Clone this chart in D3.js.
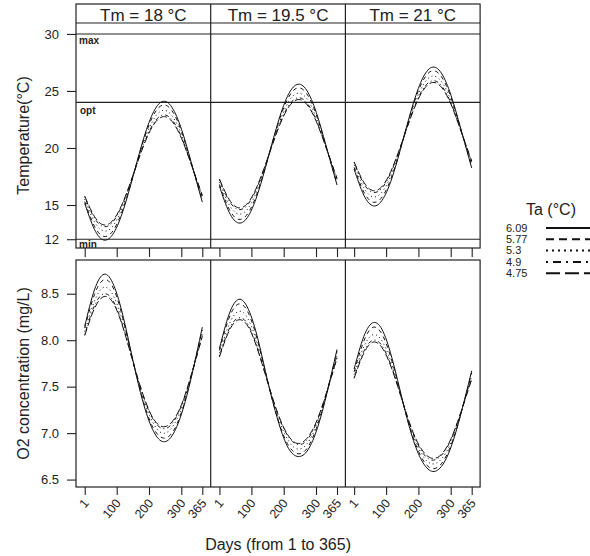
<!DOCTYPE html>
<html>
<head>
<meta charset="utf-8">
<script src="https://cdn.jsdelivr.net/npm/d3@7"></script>
<style>
  body { margin: 0; background: #fff; }
  svg { display: block; font-family: "Liberation Sans", Arial, sans-serif; }
</style>
</head>
<body>
<svg id="chart" width="590" height="556"></svg>
<script>
// values, one row per Ta level (6.09, 5.77, 5.3, 4.9, 4.75)
const days = [1, 31, 61, 91, 121, 151, 181, 211, 241, 271, 301, 331, 365]
const taLevels = ['6.09', '5.77', '5.3', '4.9', '4.75']
const tmLevels = ['18', '19.5', '21']

const tempTm18 = [
  [15.15, 12.87, 11.92, 12.56, 14.61, 17.56, 20.61, 22.99, 24.07, 23.57, 21.61, 18.71, 15.25],
  [15.30, 13.14, 12.24, 12.84, 14.79, 17.58, 20.47, 22.73, 23.75, 23.27, 21.42, 18.67, 15.39],
  [15.52, 13.53, 12.71, 13.26, 15.05, 17.61, 20.27, 22.35, 23.28, 22.84, 21.14, 18.61, 15.60],
  [15.71, 13.87, 13.10, 13.62, 15.28, 17.64, 20.10, 22.02, 22.88, 22.48, 20.91, 18.57, 15.79],
  [15.78, 14.00, 13.25, 13.75, 15.36, 17.65, 20.03, 21.90, 22.73, 22.34, 20.82, 18.55, 15.85]
]
const tempTm195 = [
  [16.65, 14.37, 13.42, 14.06, 16.11, 19.06, 22.11, 24.49, 25.57, 25.07, 23.11, 20.21, 16.75],
  [16.80, 14.64, 13.74, 14.34, 16.29, 19.08, 21.97, 24.23, 25.25, 24.77, 22.92, 20.17, 16.89],
  [17.02, 15.03, 14.21, 14.76, 16.55, 19.11, 21.77, 23.85, 24.78, 24.34, 22.64, 20.11, 17.10],
  [17.21, 15.37, 14.60, 15.12, 16.78, 19.14, 21.60, 23.52, 24.38, 23.98, 22.41, 20.07, 17.29],
  [17.28, 15.50, 14.75, 15.25, 16.86, 19.15, 21.53, 23.40, 24.23, 23.84, 22.32, 20.05, 17.35]
]
const tempTm21 = [
  [18.15, 15.87, 14.92, 15.56, 17.61, 20.56, 23.61, 25.99, 27.07, 26.57, 24.61, 21.71, 18.25],
  [18.30, 16.14, 15.24, 15.84, 17.79, 20.58, 23.47, 25.73, 26.75, 26.27, 24.42, 21.67, 18.39],
  [18.52, 16.53, 15.71, 16.26, 18.05, 20.61, 23.27, 25.35, 26.28, 25.84, 24.14, 21.61, 18.60],
  [18.71, 16.87, 16.10, 16.62, 18.28, 20.64, 23.10, 25.02, 25.88, 25.48, 23.91, 21.57, 18.79],
  [18.78, 17.00, 16.25, 16.75, 18.36, 20.65, 23.03, 24.90, 25.73, 25.34, 23.82, 21.55, 18.85]
]

const o2Tm18 = [
  [8.15, 8.54, 8.71, 8.59, 8.24, 7.77, 7.34, 7.04, 6.91, 6.97, 7.21, 7.60, 8.14],
  [8.13, 8.49, 8.65, 8.55, 8.21, 7.77, 7.36, 7.07, 6.95, 7.00, 7.23, 7.61, 8.11],
  [8.09, 8.42, 8.57, 8.47, 8.17, 7.77, 7.39, 7.12, 7.00, 7.06, 7.27, 7.62, 8.08],
  [8.06, 8.37, 8.50, 8.41, 8.13, 7.76, 7.41, 7.16, 7.05, 7.10, 7.30, 7.62, 8.05],
  [8.05, 8.34, 8.47, 8.39, 8.12, 7.76, 7.42, 7.17, 7.07, 7.12, 7.31, 7.63, 8.04]
]
const o2Tm195 = [
  [7.91, 8.28, 8.44, 8.33, 8.00, 7.55, 7.15, 6.86, 6.75, 6.80, 7.02, 7.39, 7.90],
  [7.89, 8.24, 8.39, 8.29, 7.97, 7.55, 7.16, 6.89, 6.78, 6.83, 7.05, 7.40, 7.88],
  [7.86, 8.17, 8.31, 8.22, 7.93, 7.55, 7.19, 6.94, 6.83, 6.88, 7.08, 7.41, 7.84],
  [7.83, 8.12, 8.24, 8.16, 7.89, 7.54, 7.21, 6.98, 6.88, 6.92, 7.11, 7.41, 7.81],
  [7.82, 8.10, 8.22, 8.14, 7.88, 7.54, 7.22, 6.99, 6.89, 6.94, 7.12, 7.42, 7.81]
]
const o2Tm21 = [
  [7.69, 8.04, 8.19, 8.09, 7.77, 7.35, 6.96, 6.70, 6.59, 6.64, 6.85, 7.20, 7.67],
  [7.66, 7.99, 8.14, 8.04, 7.74, 7.34, 6.98, 6.73, 6.62, 6.67, 6.87, 7.20, 7.65],
  [7.63, 7.93, 8.06, 7.97, 7.70, 7.34, 7.00, 6.77, 6.67, 6.72, 6.90, 7.21, 7.62],
  [7.60, 7.88, 8.00, 7.92, 7.67, 7.34, 7.02, 6.80, 6.71, 6.76, 6.93, 7.22, 7.59],
  [7.59, 7.86, 7.98, 7.90, 7.66, 7.34, 7.03, 6.82, 6.73, 6.77, 6.94, 7.22, 7.58]
]

const refValues = [30, 24, 12]
const refLabels = ['max', 'opt', 'min']
const tempTicks = [12, 15, 20, 25, 30]
const o2Ticks = [6.5, 7, 7.5, 8, 8.5]
const dayTicks = [1, 100, 200, 300, 365]

// R line types 1..5
const dashes = [null, '4,4', '1,3', '1,3,4,3', '7,3']
const legendDashes = [null, '8,5', '2,4', '2,5,8,5', '14,5']
const ink = '#222'

const tempData = [tempTm18, tempTm195, tempTm21]
const o2Data = [o2Tm18, o2Tm195, o2Tm21]

const svg = d3.select('#chart')

const left = 76, panelW = 134.7
const xs = tmLevels.map((tm, i) => d3.scaleLinear()
  .domain([-26, 391])
  .range([left + i * panelW, left + (i + 1) * panelW]))
const yTemp = d3.scaleLinear().domain([11.23, 30.96]).range([248, 23])
const yO2 = d3.scaleLinear().domain([6.42, 8.863]).range([487, 260])

const stripTop = 4, stripBottom = 23

// strips
tmLevels.forEach((tm, i) => {
  svg.append('text')
    .attr('x', left + (i + 0.5) * panelW)
    .attr('y', 21)
    .attr('text-anchor', 'middle')
    .attr('font-size', 17)
    .attr('fill', ink)
    .text('Tm = ' + tm + ' °C')
})

function drawRow(data, y, top, bottom) {
  data.forEach((series, p) => {
    const x = xs[p]
    const line = d3.line()
      .x((d, k) => x(days[k]))
      .y(d => y(d))
      .curve(d3.curveNatural)
    series.forEach((vals, s) => {
      svg.append('path')
        .datum(vals)
        .attr('fill', 'none')
        .attr('stroke', '#111')
        .attr('stroke-width', 1)
        .attr('stroke-dasharray', dashes[s])
        .attr('d', line)
    })
  })
  svg.append('rect')
    .attr('x', left).attr('y', top)
    .attr('width', panelW * 3).attr('height', bottom - top)
    .attr('fill', 'none').attr('stroke', ink).attr('stroke-width', 1.2)
  for (let i = 1; i < 3; i++) {
    svg.append('line')
      .attr('x1', left + i * panelW).attr('x2', left + i * panelW)
      .attr('y1', top).attr('y2', bottom)
      .attr('stroke', ink).attr('stroke-width', 1.2)
  }
}

// top row reference lines
const refOffsets = [10, 12, 9]
refValues.forEach((v, i) => {
  svg.append('line')
    .attr('x1', left).attr('x2', left + 3 * panelW)
    .attr('y1', yTemp(v)).attr('y2', yTemp(v))
    .attr('stroke', ink).attr('stroke-width', 1.1)
  svg.append('text')
    .attr('x', left + (i === 1 ? 4 : 3))
    .attr('y', yTemp(v) + refOffsets[i])
    .attr('font-size', 10)
    .attr('font-weight', 'bold')
    .attr('fill', ink)
    .text(refLabels[i])
})

drawRow(tempData, yTemp, stripTop, 248)
svg.append('line')
  .attr('x1', left).attr('x2', left + 3 * panelW)
  .attr('y1', stripBottom).attr('y2', stripBottom)
  .attr('stroke', ink).attr('stroke-width', 1.2)
drawRow(o2Data, yO2, 260, 487)

// y axes
const yAxisTemp = svg.append('g')
  .attr('transform', 'translate(' + left + ',0)')
  .call(d3.axisLeft(yTemp).tickValues(tempTicks).tickSize(9).tickPadding(8))
const yAxisO2 = svg.append('g')
  .attr('transform', 'translate(' + left + ',0)')
  .call(d3.axisLeft(yO2).tickValues(o2Ticks).tickSize(9).tickPadding(8).tickFormat(d3.format('.1f')))

;[yAxisTemp, yAxisO2].forEach(g => {
  g.select('.domain').remove()
  g.selectAll('line').attr('stroke', ink).attr('stroke-width', 1.1)
  g.selectAll('text').attr('font-size', 13).attr('fill', ink)
    .attr('font-family', '"Liberation Sans", Arial, sans-serif')
})

// x axes
xs.forEach(x => {
  const gTop = svg.append('g')
    .attr('transform', 'translate(0,248)')
    .call(d3.axisBottom(x).tickValues(dayTicks).tickSize(9).tickFormat(''))
  gTop.select('.domain').remove()
  gTop.selectAll('line').attr('stroke', ink).attr('stroke-width', 1.1)

  const gBot = svg.append('g')
    .attr('transform', 'translate(0,487)')
    .call(d3.axisBottom(x).tickValues(dayTicks).tickSize(8))
  gBot.select('.domain').remove()
  gBot.selectAll('line').attr('stroke', ink).attr('stroke-width', 1.1)
  gBot.selectAll('text')
    .attr('font-size', 12.5)
    .attr('fill', ink)
    .attr('font-family', '"Liberation Sans", Arial, sans-serif')
    .attr('text-anchor', 'end')
    .attr('x', 0).attr('y', 0).attr('dy', '0.35em')
    .attr('transform', 'translate(1,13.5) rotate(-50)')
})

// titles
svg.append('text')
  .attr('x', left + 1.5 * panelW).attr('y', 550)
  .attr('text-anchor', 'middle').attr('font-size', 16).attr('fill', ink)
  .text('Days (from 1 to 365)')
svg.append('text')
  .attr('transform', 'translate(29,' + (23 + 248) / 2 + ') rotate(-90)')
  .attr('text-anchor', 'middle').attr('font-size', 16).attr('fill', ink)
  .text('Temperature(°C)')
svg.append('text')
  .attr('transform', 'translate(29,' + (260 + 487) / 2 + ') rotate(-90)')
  .attr('text-anchor', 'middle').attr('font-size', 16).attr('fill', ink)
  .text('O2 concentration (mg/L)')

// legend
const legend = svg.append('g')
legend.append('text')
  .attr('x', 551).attr('y', 215)
  .attr('text-anchor', 'middle').attr('font-size', 16).attr('fill', ink)
  .text('Ta (°C)')
taLevels.forEach((ta, i) => {
  const ly = 228 + i * 11.3
  legend.append('text')
    .attr('x', 506).attr('y', ly).attr('dy', '0.35em')
    .attr('font-size', 11).attr('fill', ink)
    .text(ta)
  legend.append('line')
    .attr('x1', 546).attr('x2', 596)
    .attr('y1', ly).attr('y2', ly)
    .attr('stroke', '#111').attr('stroke-width', 2)
    .attr('stroke-dasharray', legendDashes[i])
})
</script>
</body>
</html>
